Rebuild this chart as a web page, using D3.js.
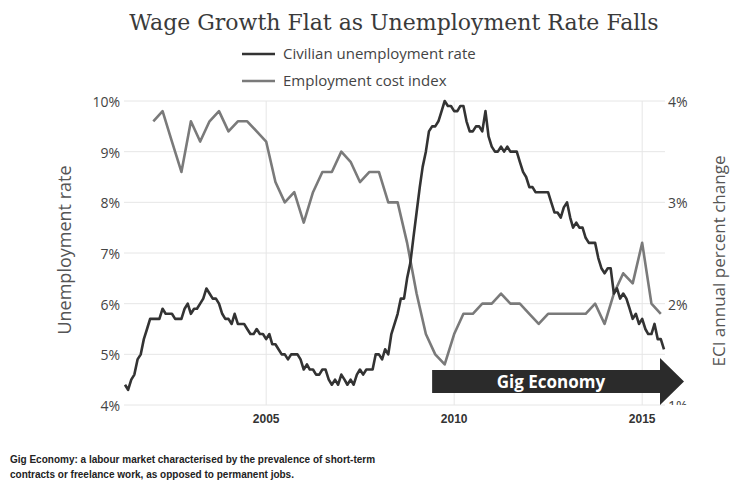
<!DOCTYPE html>
<html>
<head>
<meta charset="utf-8">
<script src="https://cdn.jsdelivr.net/npm/d3@7"></script>
<style>
  body { margin: 0; background: #fff; }
</style>
</head>
<body>
<div id="chart"></div>
<script>
// monthly civilian unemployment rate, from Apr 2001
const unempStart = new Date(2001, 3, 1);
const unemployment = [
    4.4, 4.3, 4.5, 4.6, 4.9, 5.0, 5.3, 5.5, 5.7,
    5.7, 5.7, 5.7, 5.9, 5.8, 5.8, 5.8, 5.7, 5.7, 5.7, 5.9, 6.0,
    5.8, 5.9, 5.9, 6.0, 6.1, 6.3, 6.2, 6.1, 6.1, 6.0, 5.8, 5.7,
    5.7, 5.6, 5.8, 5.6, 5.6, 5.6, 5.5, 5.4, 5.4, 5.5, 5.4, 5.4,
    5.3, 5.4, 5.2, 5.2, 5.1, 5.0, 5.0, 4.9, 5.0, 5.0, 5.0, 4.9,
    4.7, 4.8, 4.7, 4.7, 4.6, 4.6, 4.7, 4.7, 4.5, 4.4, 4.5, 4.4,
    4.6, 4.5, 4.4, 4.5, 4.4, 4.6, 4.7, 4.6, 4.7, 4.7, 4.7, 5.0,
    5.0, 4.9, 5.1, 5.0, 5.4, 5.6, 5.8, 6.1, 6.1, 6.5, 6.8, 7.3,
    7.8, 8.3, 8.7, 9.0, 9.4, 9.5, 9.5, 9.6, 9.8, 10.0, 9.9, 9.9,
    9.8, 9.8, 9.9, 9.9, 9.6, 9.4, 9.4, 9.5, 9.5, 9.4, 9.8, 9.3,
    9.1, 9.0, 9.0, 9.1, 9.0, 9.1, 9.0, 9.0, 9.0, 8.8, 8.6, 8.5,
    8.3, 8.3, 8.2, 8.2, 8.2, 8.2, 8.2, 8.0, 7.8, 7.8, 7.7, 7.9,
    8.0, 7.7, 7.5, 7.6, 7.5, 7.5, 7.3, 7.2, 7.2, 7.2, 6.9, 6.7,
    6.6, 6.7, 6.7, 6.2, 6.3, 6.1, 6.2, 6.1, 5.9, 5.7, 5.8, 5.6,
    5.7, 5.5, 5.4, 5.4, 5.6, 5.3, 5.3, 5.1
];

// quarterly employment cost index, annual % change, from Q1 2002
const eciStart = new Date(2002, 0, 1);
const eci = [
    3.8, 3.9, 3.6, 3.3,
    3.8, 3.6, 3.8, 3.9,
    3.7, 3.8, 3.8, 3.7,
    3.6, 3.2, 3.0, 3.1,
    2.8, 3.1, 3.3, 3.3,
    3.5, 3.4, 3.2, 3.3,
    3.3, 3.0, 3.0, 2.6,
    2.1, 1.7, 1.5, 1.4,
    1.7, 1.9, 1.9, 2.0,
    2.0, 2.1, 2.0, 2.0,
    1.9, 1.8, 1.9, 1.9,
    1.9, 1.9, 1.9, 2.0,
    1.8, 2.1, 2.3, 2.2,
    2.6, 2.0, 1.9
];

const leftTicks = [4, 5, 6, 7, 8, 9, 10];
const rightTicks = [1, 2, 3, 4];
const yearTicks = [2005, 2010, 2015];
const seriesNames = ["Civilian unemployment rate", "Employment cost index"];
const gigStart = new Date(2009, 5, 1);

const width = 731,
    height = 485;

const plotLeft = 124,
    plotRight = 665,
    plotTop = 101,
    plotBottom = 405;

const darkLine = "#333333",
    lightLine = "#7a7a7a";

const svg = d3.select("#chart")
    .append("svg")
    .attr("width", width)
    .attr("height", height)
    .style("font-family", "'Open Sans', sans-serif");

// the right-hand labels are cut at the plot bottom, like in the source image
svg.append("clipPath")
    .attr("id", "right-clip")
    .append("rect")
    .attr("x", 0)
    .attr("y", 0)
    .attr("width", width)
    .attr("height", plotBottom);

const x = d3.scaleTime()
    .domain([unempStart, d3.timeMonth.offset(unempStart, unemployment.length - 1)])
    .range([125, 664]);

const yLeft = d3.scaleLinear()
    .domain([4, 10])
    .range([plotBottom, plotTop]);

const yRight = d3.scaleLinear()
    .domain([1, 4])
    .range([plotBottom, plotTop]);

const unempData = unemployment.map(function(v, i) {
    return { date: d3.timeMonth.offset(unempStart, i), value: v };
});
const eciData = eci.map(function(v, i) {
    return { date: d3.timeMonth.offset(eciStart, i * 3), value: v };
});

// grid
svg.append("g")
    .selectAll("line")
    .data(leftTicks)
    .join("line")
    .attr("x1", plotLeft)
    .attr("x2", plotRight)
    .attr("y1", function(d) { return yLeft(d) })
    .attr("y2", function(d) { return yLeft(d) })
    .attr("stroke", "#e6e6e6")
    .attr("stroke-width", 1);

svg.append("g")
    .selectAll("line")
    .data(yearTicks)
    .join("line")
    .attr("x1", function(d) { return x(new Date(d, 0, 1)) })
    .attr("x2", function(d) { return x(new Date(d, 0, 1)) })
    .attr("y1", plotTop)
    .attr("y2", plotBottom)
    .attr("stroke", "#e6e6e6")
    .attr("stroke-width", 1);

// tick labels
svg.append("g")
    .selectAll("text")
    .data(leftTicks)
    .join("text")
    .attr("x", 120)
    .attr("y", function(d) { return yLeft(d) })
    .attr("dy", "0.42em")
    .attr("text-anchor", "end")
    .style("font-size", "14px")
    .style("fill", "#444")
    .text(function(d) { return d + "%" });

svg.append("g")
    .attr("clip-path", "url(#right-clip)")
    .selectAll("text")
    .data(rightTicks)
    .join("text")
    .attr("x", 668)
    .attr("y", function(d) { return yRight(d) })
    .attr("dy", "0.42em")
    .attr("text-anchor", "start")
    .style("font-size", "14px")
    .style("fill", "#444")
    .text(function(d) { return d + "%" });

svg.append("g")
    .selectAll("text")
    .data(yearTicks)
    .join("text")
    .attr("x", function(d) { return x(new Date(d, 0, 1)) })
    .attr("y", 423)
    .attr("text-anchor", "middle")
    .style("font-family", "'Liberation Sans', Arial, sans-serif")
    .style("font-weight", "bold")
    .style("font-size", "12px")
    .style("fill", "#333")
    .text(function(d) { return d });

// axis titles
svg.append("text")
    .attr("transform", "translate(71,250) rotate(-90)")
    .attr("text-anchor", "middle")
    .style("font-size", "18px")
    .style("fill", "#555")
    .text("Unemployment rate");

svg.append("text")
    .attr("transform", "translate(725,261) rotate(-90)")
    .attr("text-anchor", "middle")
    .style("font-size", "17px")
    .style("fill", "#555")
    .text("ECI annual percent change");

// lines
const lineLeft = d3.line()
    .x(function(d) { return x(d.date) })
    .y(function(d) { return yLeft(d.value) });

const lineRight = d3.line()
    .x(function(d) { return x(d.date) })
    .y(function(d) { return yRight(d.value) });

svg.append("path")
    .datum(eciData)
    .attr("d", lineRight)
    .attr("fill", "none")
    .attr("stroke", lightLine)
    .attr("stroke-width", 2.6)
    .attr("stroke-linejoin", "round");

svg.append("path")
    .datum(unempData)
    .attr("d", lineLeft)
    .attr("fill", "none")
    .attr("stroke", darkLine)
    .attr("stroke-width", 2.6)
    .attr("stroke-linejoin", "round");

// gig economy arrow
const ax = x(gigStart);
const arrow = d3.path();
arrow.moveTo(ax, 370);
arrow.lineTo(660, 370);
arrow.lineTo(660, 358);
arrow.lineTo(684, 381.5);
arrow.lineTo(660, 405);
arrow.lineTo(660, 393);
arrow.lineTo(ax, 393);
arrow.closePath();

svg.append("path")
    .attr("d", arrow.toString())
    .attr("fill", "#2b2b2b");

svg.append("text")
    .attr("x", 551)
    .attr("y", 388)
    .attr("text-anchor", "middle")
    .style("font-size", "17px")
    .style("font-weight", "bold")
    .style("fill", "#fff")
    .text("Gig Economy");

// title
svg.append("text")
    .attr("x", 394)
    .attr("y", 30)
    .attr("text-anchor", "middle")
    .style("font-family", "'DejaVu Serif', serif")
    .style("font-size", "22px")
    .style("fill", "#3a3a3a")
    .text("Wage Growth Flat as Unemployment Rate Falls");

// legend
const legend = svg.append("g")
    .selectAll("g")
    .data(seriesNames)
    .join("g")
    .attr("transform", function(d, i) { return `translate(242,${54 + i * 27})` });

legend.append("line")
    .attr("x1", 0)
    .attr("x2", 33)
    .attr("stroke", function(d, i) { return i == 0 ? darkLine : lightLine })
    .attr("stroke-width", 2.5);

legend.append("text")
    .attr("x", 41)
    .attr("dy", "0.36em")
    .style("font-size", "15px")
    .style("fill", "#444")
    .text(function(d) { return d });

// footnote
const note = svg.append("text")
    .style("font-family", "'Liberation Sans', Arial, sans-serif")
    .style("font-weight", "bold")
    .style("font-size", "10px")
    .style("fill", "#222");

note.append("tspan")
    .attr("x", 10)
    .attr("y", 463)
    .text("Gig Economy: a labour market characterised by the prevalence of short-term");

note.append("tspan")
    .attr("x", 10)
    .attr("y", 478)
    .text("contracts or freelance work, as opposed to permanent jobs.");
</script>
</body>
</html>
